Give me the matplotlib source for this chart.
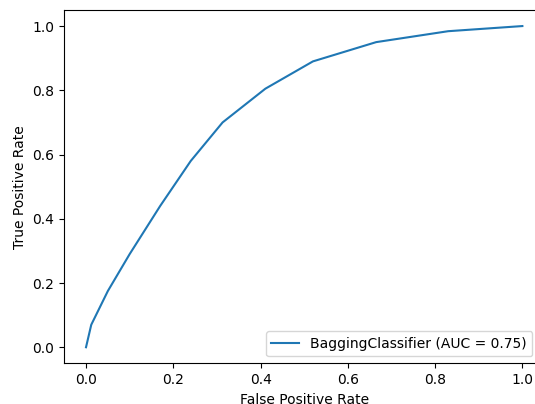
import matplotlib
matplotlib.use("Agg")
import matplotlib.pyplot as plt

# ROC curve points
fpr = [0.0, 0.012, 0.05, 0.1, 0.17, 0.24, 0.313, 0.411, 0.52, 0.665, 0.83, 1.0]
tpr = [0.0, 0.07, 0.175, 0.29, 0.44, 0.58, 0.70, 0.805, 0.89, 0.95, 0.984, 1.0]
label = "BaggingClassifier (AUC = 0.75)"

fig = plt.figure(figsize=(5.35, 4.04), dpi=100)
# the reference is cropped on the right, so the axes run past the edge
ax = fig.add_axes([64.2 / 535, 40.7 / 404, 480 / 535, 353.3 / 404])

ax.plot(fpr, tpr, color="#1f77b4", label=label)
ax.set_xlabel("False Positive Rate")
ax.set_ylabel("True Positive Rate")
ax.legend(loc="lower right", bbox_to_anchor=(0.99, 0.0))

fig.savefig("out.png", dpi=100)
